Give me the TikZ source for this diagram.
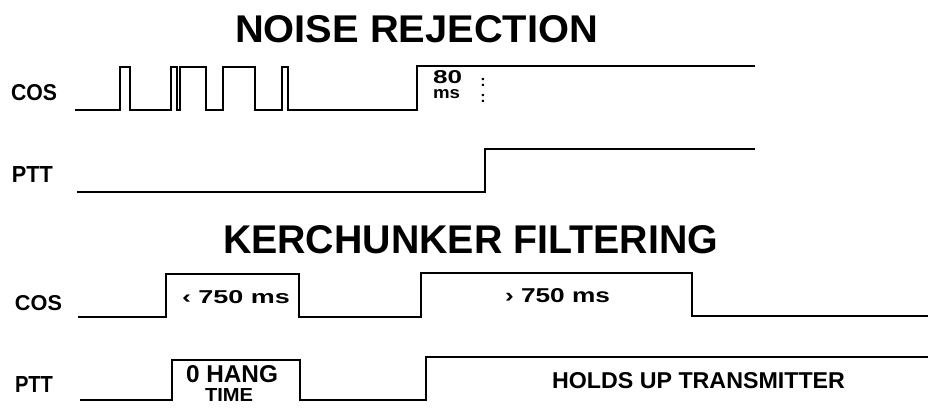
\documentclass[tikz,border=0pt]{standalone}
\usepackage{fontspec}
\setmainfont{Liberation Sans}
\newcommand{\fitbox}[3]{\resizebox{#1pt}{#2pt}{\bfseries #3}}
\begin{document}
\begin{tikzpicture}[x=1pt,y=-1pt,
  wave/.style={line width=2.8pt,line join=miter,line cap=butt},
  txt/.style={anchor=north west,inner sep=0pt,outer sep=0pt}]
\useasboundingbox (0,0) rectangle (928,407);
\fill[white] (0,0) rectangle (928,407);

% titles
\node[txt] (t1) at (235,15) {\fitbox{363}{27}{NOISE REJECTION}};
\node[txt] (t2) at (223,225) {\fitbox{495}{28}{KERCHUNKER FILTERING}};

% labels
\node[txt] (cos1) at (11,84) {\fitbox{46}{16}{COS}};
\node[txt] (ptt1) at (12,166) {\fitbox{41}{16}{PTT}};
\node[txt] (cos2) at (15,295) {\fitbox{47}{15}{COS}};
\node[txt] (ptt2) at (15,376) {\fitbox{38}{16}{PTT}};

% noise rejection COS
\draw[wave] (75,110) -- (120,110) -- (120,67) -- (130,67) -- (130,110)
  -- (171,110) -- (171,67) -- (177,67) -- (177,110)
  -- (180,110) -- (180,67) -- (206,67) -- (206,110)
  -- (223,110) -- (223,67) -- (255,67) -- (255,110)
  -- (282,110) -- (282,67) -- (288,67) -- (288,110)
  -- (417,110) -- (417,66) -- (755,66);
\node[txt] (n80) at (433,70) {\fitbox{29}{13}{80}};
\node[txt] (nms) at (433,89) {\fitbox{27}{9}{ms}};
\node[anchor=base,inner sep=0pt] (c1) at (483,86) {\fontsize{16}{16}\selectfont\bfseries :};
\node[anchor=base,inner sep=0pt] (c2) at (483,102) {\fontsize{16}{16}\selectfont\bfseries :};

% noise rejection PTT
\draw[wave] (77,192) -- (485,192) -- (485,149) -- (755,149);

% kerchunker COS
\draw[wave] (78,317) -- (166,317) -- (166,274) -- (299,274) -- (299,317)
  -- (421,317) -- (421,273) -- (692,273) -- (692,316) -- (928,316);
\node[txt] (lt) at (182,290) {\fitbox{108}{13}{‹ 750 ms}};
\node[txt] (gt) at (505,288) {\fitbox{105}{14}{› 750 ms}};

% kerchunker PTT
\draw[wave] (80,400) -- (172,400) -- (172,360) -- (300,360) -- (300,400)
  -- (426,400) -- (426,357) -- (928,357);
\node[txt] (hang) at (186,365) {\fitbox{92}{17}{0 HANG}};
\node[txt] (time) at (205,388) {\fitbox{48}{13}{TIME}};
\node[txt] (holds) at (552,372) {\fitbox{293}{16}{HOLDS UP TRANSMITTER}};
\end{tikzpicture}
\end{document}
